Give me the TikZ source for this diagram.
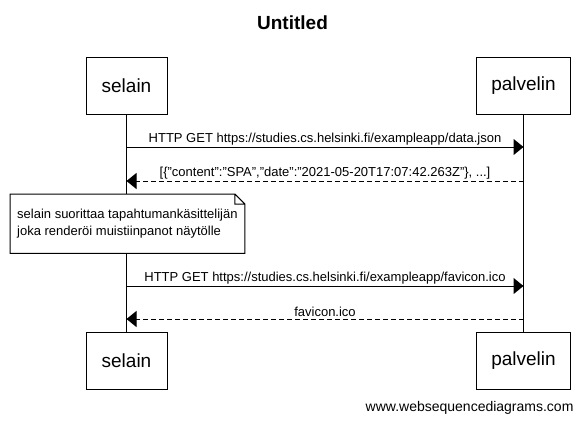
\documentclass[tikz,border=0pt]{standalone}
\usepackage{fontspec}
\setmainfont{Liberation Sans}
\usetikzlibrary{arrows.meta,positioning}

\tikzset{
    osapuoli/.style={draw,line width=1pt,minimum height=57pt,inner sep=0pt,font=\fontsize{19}{22}\selectfont},
    viesti/.style={line width=1pt,-{Triangle[length=10pt,width=16pt]}},
    vastaus/.style={viesti,dash pattern=on 5pt off 3pt},
    teksti/.style={above=0.5pt,inner sep=1pt,font=\fontsize{13}{15}\selectfont},
}

\begin{document}
\begin{tikzpicture}[x=1pt,y=-1pt]
    \useasboundingbox (0,0) rectangle (585,424);
    \node[font=\bfseries\fontsize{19}{22}\selectfont] (otsikko) at (292.5,23) {Untitled};
    % osapuolet ylhaalla ja alhaalla
    \foreach \k/\y in {1/85.5,2/360.5}{
            \node[osapuoli,minimum width=81pt] (selain\k) at (126.5,\y) {selain};
            \node[osapuoli,minimum width=94pt] (palvelin\k) at (523.5,\y) {palvelin};}
    \draw[line width=1pt] (selain1) -- (selain2) (palvelin1) -- (palvelin2);
    \foreach \n/\y in {1/147,2/181,3/286,4/319}{
            \coordinate (s\n) at (selain1 |- 0,\y);
            \coordinate (p\n) at (palvelin1 |- 0,\y);}
    \draw[viesti] (s1) -- node[teksti] {HTTP GET https://studies.cs.helsinki.fi/exampleapp/data.json} (p1);
    \draw[vastaus] (p2) -- node[teksti] {[\{"content":"SPA","date":"2021-05-20T17:07:42.263Z"\}, ...]} (s2);
    % muistiinpano
    \node[fill=white,anchor=north west,minimum width=232pt,minimum height=59pt,inner xsep=7pt,
        align=left,font=\fontsize{13}{17}\selectfont] (muistio) at (10,194)
        {selain suorittaa tapahtumankäsittelijän\\joka renderöi muistiinpanot näytölle};
    \draw[line width=1pt] (muistio.north west) -- ([xshift=-10pt]muistio.north east) -- ([yshift=-10pt]muistio.north east)
        -- (muistio.south east) -- (muistio.south west) -- cycle
        ([xshift=-10pt]muistio.north east) |- ([yshift=-10pt]muistio.north east);
    \draw[viesti] (s3) -- node[teksti] {HTTP GET https://studies.cs.helsinki.fi/exampleapp/favicon.ico} (p3);
    \draw[vastaus] (p4) -- node[teksti] {favicon.ico} (s4);
    \node[anchor=east,font=\fontsize{14}{16}\selectfont] (osoite) at (577,408) {www.websequencediagrams.com};
\end{tikzpicture}
\end{document}
